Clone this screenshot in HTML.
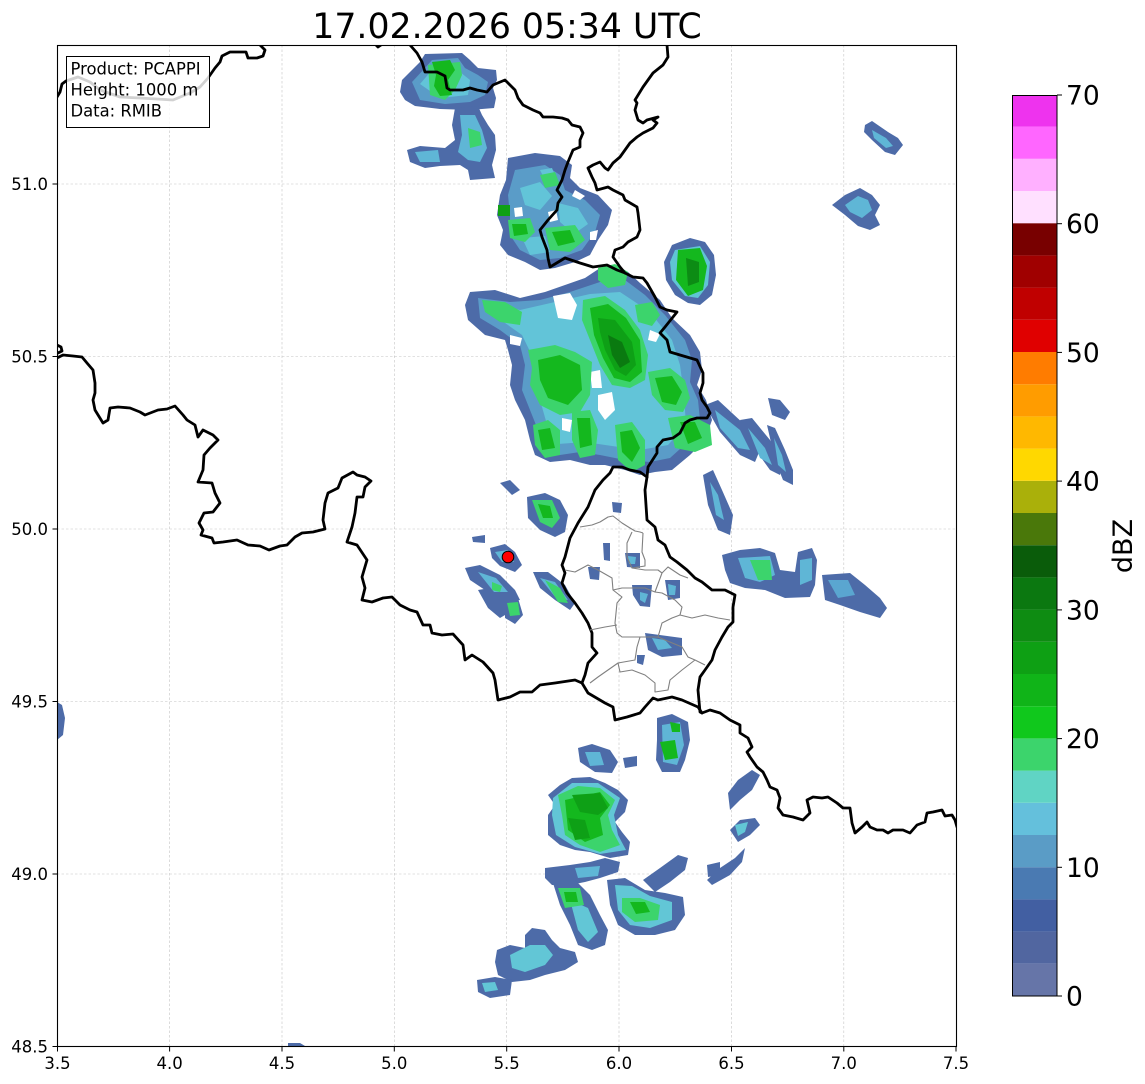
<!DOCTYPE html>
<html><head><meta charset="utf-8"><style>
html,body{margin:0;padding:0;background:#fff;}
svg{display:block;font-family:"DejaVu Sans","Liberation Sans",sans-serif;}
</style></head><body>
<svg width="1145" height="1084" viewBox="0 0 1145 1084" xmlns="http://www.w3.org/2000/svg">
<rect width="1145" height="1084" fill="#fff"/>
<defs><clipPath id="ax"><rect x="57.5" y="45.5" width="899" height="1001"/></clipPath></defs>
<!-- grid -->
<g stroke="#c4c4c4" stroke-width="0.6" stroke-dasharray="2.5,2">
<line x1="169.6" y1="45" x2="169.6" y2="1046"/><line x1="282" y1="45" x2="282" y2="1046"/><line x1="394.3" y1="45" x2="394.3" y2="1046"/><line x1="506.7" y1="45" x2="506.7" y2="1046"/><line x1="619" y1="45" x2="619" y2="1046"/><line x1="731.5" y1="45" x2="731.5" y2="1046"/><line x1="843.8" y1="45" x2="843.8" y2="1046"/>
<line x1="57" y1="184" x2="956" y2="184"/><line x1="57" y1="356.5" x2="956" y2="356.5"/><line x1="57" y1="529" x2="956" y2="529"/><line x1="57" y1="701.5" x2="956" y2="701.5"/><line x1="57" y1="874" x2="956" y2="874"/>
</g>
<g clip-path="url(#ax)">
<g stroke="none">
<!-- blob 1 -->
<path fill="#4d6ba8" d="M402,80 L410,72 L420,62 L425,54 L462,53 L470,60 L478,68 L496,70 L497,80 L493,88 L496,98 L494,108 L470,110 L440,109 L415,106 L405,100 L400,92 Z"/>
<path fill="#5a9cc8" d="M412,82 L425,68 L432,60 L458,58 L465,68 L478,75 L488,82 L485,95 L470,102 L445,104 L420,100 Z"/>
<path fill="#62c4d8" d="M420,84 L432,70 L455,68 L470,80 L468,95 L440,98 Z"/>
<path fill="#3cd46c" d="M428,65 L460,62 L462,75 L455,90 L445,100 L430,95 Z"/>
<path fill="#14b81e" d="M432,62 L450,60 L455,70 L448,80 L452,95 L440,96 L434,86 L436,75 Z"/>
<!-- blob 2 -->
<path fill="#4d6ba8" d="M455,108 L478,106 L482,115 L488,125 L495,135 L496,150 L492,165 L495,178 L470,180 L468,170 L460,165 L440,166 L425,168 L410,162 L407,150 L420,146 L445,148 L455,140 L452,125 Z"/>
<path fill="#5fb6d6" d="M460,115 L475,115 L482,130 L487,148 L480,162 L468,160 L458,152 L462,135 Z M415,152 L438,150 L440,162 L420,162 Z"/>
<path fill="#3cd46c" d="M468,128 L480,132 L482,145 L470,148 Z"/>
<!-- blob 3 -->
<path fill="#4d6ba8" d="M508,158 L535,153 L560,156 L572,165 L570,178 L580,188 L598,195 L612,210 L608,225 L598,240 L590,255 L575,262 L555,268 L540,270 L525,262 L508,255 L500,245 L503,230 L497,215 L500,195 L506,180 Z"/>
<path fill="#5a9cc8" d="M515,170 L545,165 L560,175 L565,190 L585,200 L600,215 L595,232 L582,250 L560,258 L540,260 L520,250 L510,235 L510,215 L508,195 Z"/>
<path fill="#62c4d8" d="M520,188 L540,182 L552,196 L540,210 L525,205 Z M558,203 L578,208 L588,224 L574,234 L560,222 Z M522,238 L545,236 L550,252 L530,255 Z M540,170 L552,168 L556,178 L545,180 Z"/>
<path fill="#fff" d="M514,208 L522,207 L523,216 L515,217 Z M548,212 L556,210 L558,220 L550,222 Z M575,190 L585,196 L580,200 L572,196 Z M590,232 L598,230 L596,240 L590,240 Z"/>
<path fill="#10a016" d="M498,205 L510,205 L510,216 L498,216 Z"/>
<path fill="#3cd46c" d="M508,220 L530,218 L535,232 L525,242 L510,238 Z M545,228 L575,225 L585,240 L570,252 L550,250 Z M540,175 L555,172 L560,185 L545,188 Z"/>
<path fill="#14b81e" d="M512,224 L526,224 L528,234 L514,236 Z M552,232 L570,230 L575,242 L558,246 Z"/>
<!-- blob 4 -->
<path fill="#4d6ba8" d="M672,245 L690,238 L705,242 L714,255 L716,275 L712,295 L700,305 L688,303 L675,295 L666,280 L664,262 Z"/>
<path fill="#60c4d4" d="M675,250 L700,246 L710,262 L708,285 L698,298 L685,296 L672,280 L670,262 Z"/>
<path fill="#14b81e" d="M678,250 L700,248 L707,266 L703,290 L688,296 L676,280 Z"/>
<path fill="#0c8c14" d="M686,258 L699,262 L699,282 L688,286 Z"/>
<!-- blob 5 main cluster -->
<path fill="#4d6ba8" d="M470,292 L495,290 L520,298 L545,292 L565,285 L585,278 L600,268 L615,265 L628,272 L640,283 L660,300 L672,318 L690,335 L700,352 L702,370 L697,385 L706,400 L712,420 L705,440 L690,455 L672,470 L655,472 L640,475 L625,470 L605,465 L590,465 L570,460 L550,462 L535,455 L530,440 L525,420 L515,400 L510,385 L512,365 L508,350 L505,340 L485,335 L468,320 L465,305 Z"/>
<path fill="#5a9cc8" d="M478,298 L510,302 L540,300 L570,292 L600,282 L625,280 L645,295 L665,315 L685,340 L692,360 L690,382 L698,400 L700,420 L690,440 L670,458 L650,462 L625,460 L600,455 L580,452 L560,455 L542,448 L538,430 L530,410 L522,390 L525,365 L520,345 L500,330 L480,318 Z"/>
<path fill="#62c4d8" d="M492,302 L520,310 L555,302 L590,294 L620,292 L650,312 L672,340 L680,365 L684,395 L686,425 L668,445 L640,450 L612,446 L585,442 L558,444 L548,428 L540,400 L538,368 L522,335 L498,318 Z"/>
<path fill="#fff" d="M553,296 L570,293 L577,305 L572,320 L558,318 Z M590,372 L600,370 L602,388 L592,388 Z M598,395 L612,392 L615,410 L605,420 L598,410 Z M510,335 L522,338 L520,346 L510,344 Z M562,418 L572,420 L570,432 L562,430 Z M650,330 L660,334 L656,342 L648,340 Z"/>
<path fill="#3cd46c" d="M482,300 L505,302 L522,312 L520,325 L500,322 L485,312 Z"/>
<path fill="#3cd46c" d="M583,300 L605,296 L625,310 L640,330 L648,355 L645,380 L630,388 L612,385 L600,365 L590,340 L582,320 Z"/>
<path fill="#14b81e" d="M590,308 L608,304 L626,318 L640,340 L642,372 L630,382 L614,378 L603,358 L594,335 Z"/>
<path fill="#0ea016" d="M598,318 L615,320 L632,342 L636,365 L626,376 L615,370 L605,350 L600,332 Z"/>
<path fill="#0a7a10" d="M608,335 L622,342 L630,362 L620,368 L612,355 Z"/>
<path fill="#3cd46c" d="M528,350 L555,345 L575,352 L592,362 L590,395 L580,412 L560,415 L540,405 L530,385 L532,368 Z"/>
<path fill="#14b81e" d="M538,360 L560,355 L580,365 L582,390 L568,405 L548,398 L540,380 Z"/>
<path fill="#3cd46c" d="M533,425 L548,420 L560,430 L560,455 L545,458 L535,445 Z M572,412 L590,410 L598,430 L595,455 L580,458 L572,440 Z"/>
<path fill="#14b81e" d="M538,430 L550,428 L555,448 L542,450 Z M577,418 L590,418 L592,445 L580,448 Z"/>
<path fill="#3cd46c" d="M648,372 L670,368 L685,380 L690,398 L683,412 L665,410 L652,395 Z"/>
<path fill="#14b81e" d="M655,378 L672,376 L682,392 L676,405 L662,402 Z"/>
<path fill="#3cd46c" d="M598,268 L615,264 L628,272 L625,285 L608,288 L598,280 Z M635,305 L652,302 L660,315 L652,326 L638,322 Z"/>
<path fill="#3cd46c" d="M615,425 L632,422 L645,440 L645,465 L632,472 L618,460 Z M668,418 L690,415 L710,425 L712,445 L695,452 L675,448 Z"/>
<path fill="#14b81e" d="M620,432 L632,430 L640,448 L632,462 L622,452 Z M680,422 L695,422 L702,438 L688,444 Z"/>
<!-- east streaks -->
<path fill="#4d6ba8" d="M705,405 L718,400 L745,425 L760,450 L755,462 L740,455 L720,432 Z M740,420 L752,418 L770,440 L782,462 L780,475 L770,470 L752,445 Z M768,398 L780,400 L790,412 L785,420 L772,415 Z M767,425 L775,428 L785,450 L793,470 L793,485 L783,480 L775,460 Z M703,475 L713,470 L722,490 L733,515 L730,535 L718,530 L708,505 Z"/>
<path fill="#5fb6d6" d="M715,410 L740,430 L750,450 L738,448 L720,428 Z M748,428 L765,448 L772,465 L760,458 Z M710,482 L718,495 L724,520 L716,515 Z M774,438 L782,455 L786,472 L778,465 Z"/>
<!-- top right -->
<path fill="#4d6ba8" d="M865,125 L872,121 L888,132 L898,138 L903,145 L895,155 L885,152 L872,140 L864,132 Z"/>
<path fill="#5fb6d6" d="M872,130 L886,138 L893,146 L886,148 L874,138 Z"/>
<path fill="#4d6ba8" d="M832,205 L845,195 L860,188 L872,195 L880,205 L875,215 L880,225 L870,230 L858,226 L845,215 Z"/>
<path fill="#5fb6d6" d="M845,205 L858,196 L868,200 L872,210 L862,218 L850,212 Z"/>
<!-- east band -->
<path fill="#4d6ba8" d="M722,555 L740,550 L760,548 L775,553 L780,570 L795,572 L798,552 L812,548 L817,560 L815,585 L810,597 L785,598 L765,590 L745,588 L730,583 L725,570 Z"/>
<path fill="#5fb6d6" d="M738,558 L770,556 L775,575 L760,582 L745,578 Z M800,560 L812,558 L812,580 L800,585 Z"/>
<path fill="#3cd46c" d="M750,560 L770,560 L772,580 L758,580 Z"/>
<path fill="#4d6ba8" d="M822,575 L850,573 L865,585 L880,598 L887,608 L880,618 L860,612 L840,605 L825,600 Z"/>
<path fill="#5aa6d0" d="M828,580 L848,580 L855,595 L838,598 Z"/>
<!-- radar site area -->
<path fill="#4d6ba8" d="M527,497 L545,493 L560,500 L568,515 L565,532 L555,537 L540,530 L528,518 Z"/>
<path fill="#3cd46c" d="M532,500 L552,500 L560,518 L552,528 L540,522 Z"/>
<path fill="#14b81e" d="M538,504 L550,506 L553,518 L543,518 Z"/>
<path fill="#4d6ba8" d="M490,548 L505,544 L515,552 L522,565 L515,572 L500,566 L492,558 Z M465,568 L480,565 L500,575 L515,590 L520,600 L505,602 L485,590 L470,580 Z M478,590 L490,588 L505,600 L510,612 L500,618 L488,608 Z M505,600 L518,598 L523,615 L515,624 L505,618 Z M533,572 L548,572 L565,585 L575,603 L570,610 L555,600 L540,588 Z M500,483 L510,480 L520,490 L512,495 Z M472,537 L485,535 L485,543 L473,542 Z"/>
<path fill="#5fb6d6" d="M495,552 L508,550 L514,562 L502,562 Z M478,572 L496,578 L508,592 L494,592 Z M540,578 L555,582 L568,600 L556,598 Z"/>
<path fill="#3cd46c" d="M507,603 L518,602 L520,615 L510,616 Z M545,580 L560,588 L568,603 L558,602 Z M492,582 L502,586 L500,592 L492,590 Z"/>
<!-- Lux interior -->
<path fill="#4d6ba8" d="M625,553 L640,553 L640,568 L627,567 Z M632,585 L652,585 L650,607 L640,606 L633,595 Z M665,580 L680,580 L680,598 L668,600 Z M645,633 L682,638 L682,655 L662,657 L648,650 Z M637,655 L645,655 L643,665 L637,663 Z M588,567 L600,567 L599,580 L590,579 Z M612,502 L622,503 L621,513 L613,512 Z M603,543 L610,543 L610,561 L604,560 Z"/>
<path fill="#5fb6d6" d="M628,556 L636,557 L635,564 L629,564 Z M640,592 L648,594 L645,603 L640,600 Z M668,584 L676,586 L675,595 L669,595 Z M652,638 L665,640 L672,648 L658,650 Z"/>
<!-- south cluster -->
<path fill="#4d6ba8" d="M578,748 L592,744 L610,750 L618,762 L612,773 L595,772 L580,762 Z M623,758 L637,756 L637,766 L625,768 Z"/>
<path fill="#5fb6d6" d="M585,752 L600,752 L604,765 L590,766 Z"/>
<path fill="#4d6ba8" d="M657,718 L672,714 L688,722 L690,740 L685,760 L680,772 L662,772 L656,760 L657,740 Z"/>
<path fill="#5fb6d6" d="M662,725 L680,722 L684,745 L677,765 L663,762 Z"/>
<path fill="#14b81e" d="M660,742 L675,740 L678,758 L665,760 Z M670,722 L680,724 L680,732 L672,732 Z"/>
<path fill="#4d6ba8" d="M548,795 L560,785 L572,778 L590,777 L605,783 L618,790 L628,800 L625,812 L615,822 L622,832 L630,842 L628,855 L610,858 L590,852 L575,850 L560,845 L548,835 L548,815 L555,805 Z"/>
<path fill="#62c6d6" d="M553,798 L572,783 L598,783 L620,798 L614,815 L618,835 L626,850 L600,854 L575,847 L556,835 L552,815 Z"/>
<path fill="#3cd46c" d="M558,795 L578,786 L600,788 L615,800 L608,815 L612,830 L620,845 L600,852 L580,845 L565,835 L562,815 Z"/>
<path fill="#14b81e" d="M565,800 L600,792 L610,805 L600,818 L603,835 L585,842 L568,830 Z"/>
<path fill="#0ea016" d="M572,795 L600,793 L608,808 L598,815 L580,812 Z M568,818 L585,820 L590,838 L575,840 Z"/>
<path fill="#4d6ba8" d="M545,868 L570,865 L590,862 L605,858 L620,862 L618,872 L600,878 L585,882 L570,885 L552,885 L545,878 Z"/>
<path fill="#5fb6d6" d="M575,868 L600,866 L598,876 L578,878 Z"/>
<path fill="#4d6ba8" d="M552,880 L575,880 L590,895 L600,915 L608,930 L605,945 L592,950 L578,945 L570,925 L560,905 Z"/>
<path fill="#62c6d6" d="M570,900 L588,908 L598,932 L588,942 L578,930 Z"/>
<path fill="#3cd46c" d="M558,888 L580,888 L584,905 L565,908 Z"/>
<path fill="#14b81e" d="M564,892 L576,892 L578,902 L566,902 Z"/>
<path fill="#4d6ba8" d="M607,880 L625,878 L645,890 L665,893 L683,897 L685,915 L675,930 L655,935 L635,935 L618,925 L610,905 Z M643,880 L660,868 L678,855 L688,858 L685,870 L670,882 L655,892 Z M707,865 L720,862 L720,875 L708,877 Z"/>
<path fill="#62c6d6" d="M615,885 L632,886 L650,896 L672,902 L672,920 L650,928 L630,925 L618,910 Z"/>
<path fill="#3cd46c" d="M622,898 L640,898 L660,905 L658,920 L635,922 L622,912 Z"/>
<path fill="#14b81e" d="M630,902 L645,902 L650,912 L636,914 Z"/>
<path fill="#4d6ba8" d="M497,950 L510,945 L525,948 L525,935 L532,928 L545,930 L552,940 L560,948 L575,952 L578,962 L565,970 L545,975 L530,980 L512,982 L498,975 L495,962 Z"/>
<path fill="#62c6d6" d="M510,955 L530,945 L545,945 L553,955 L545,965 L525,972 L512,968 Z"/>
<path fill="#4d6ba8" d="M477,980 L495,977 L512,980 L510,995 L490,998 L478,992 Z"/>
<path fill="#62c6d6" d="M482,983 L495,982 L498,990 L485,992 Z"/>
<path fill="#4d6ba8" d="M728,793 L738,780 L752,770 L760,775 L752,790 L740,800 L730,810 Z M730,830 L740,820 L755,818 L760,825 L750,835 L738,842 Z M707,880 L720,868 L735,858 L745,848 L742,862 L730,875 L712,885 Z"/>
<path fill="#62c6d6" d="M735,825 L748,822 L745,832 L738,836 Z"/>
<path fill="#4d6ba8" d="M57,702 L62,705 L65,718 L63,735 L57,740 Z M288,1043 L300,1043 L305,1046 L288,1046 Z"/>
</g>
<!-- borders -->
<g fill="none" stroke="#000" stroke-width="2.8" stroke-linejoin="round" stroke-linecap="round">
<path d="M57,97 L60,92 L62,84 L66,81 L72,79 L78,77 L90,82 L100,90 L120,97 L140,98 L173,100 L190,93 L200,87 L208,78 L215,68 L220,62 L222,56 L230,52 L246,52 L248,58 L257,58 L263,56 L265,50 L260,45"/>
<path d="M376,45 L378,47 L381,45"/>
<path d="M410,45 L417,53 L422,62 L425,72 L437,72 L445,76 L447,88 L450,90 L463,90 L470,88 L477,90 L487,92 L493,85 L505,80 L515,90 L518,98 L523,105 L533,110 L540,113 L543,117 L553,117 L562,118 L568,120 L572,125 L580,127 L583,133 L580,140 L580,147 L573,150 L568,162 L565,170 L562,180 L557,190 L562,197 L558,203 L557,210 L548,220 L540,230 L542,237 L547,250 L548,258 L550,267 L565,258 L580,263 L593,267 L607,265 L617,270 L625,273 L633,277 L643,278 L647,283 L655,297 L660,307 L667,310 L677,312 L673,317 L665,327 L660,333 L667,340 L670,352 L680,355 L697,360 L703,373 L703,383 L700,393 L702,400 L707,407 L710,413 L707,418 L697,418 L690,420 L685,423 L680,433 L673,438 L663,440 L657,447 L657,453 L648,467 L647,477"/>
<path d="M625,273 L620,267 L613,257 L615,250 L623,247 L628,242 L637,237 L640,230 L638,213 L637,207 L625,200 L623,195 L613,190 L608,187 L597,190 L595,183 L592,177 L588,168 L593,165 L600,162 L605,168 L608,170 L613,163 L620,157 L630,143 L637,137 L643,133 L653,128 L657,123 L653,120 L658,117 L647,120 L643,123 L638,120 L635,110 L637,103 L635,100 L643,87 L653,73 L663,65 L668,57 L667,45"/>
<path d="M57,345 L61,347 L62,351 L58,353"/>
<path d="M57,358 L63,355 L73,356 L82,357 L87,363 L93,370 L95,383 L95,393 L93,400 L95,410 L103,423 L108,420 L110,408 L118,407 L130,408 L140,412 L145,415 L158,410 L167,409 L175,406 L183,415 L187,420 L195,425 L198,437 L203,430 L213,435 L218,440 L210,448 L204,455 L203,470 L198,482 L212,483 L215,493 L220,503 L213,512 L204,513 L199,523 L203,530 L201,535 L212,538 L214,543 L223,542 L237,540 L248,545 L260,546 L269,550 L280,546 L287,545 L295,537 L302,533 L313,532 L325,529 L323,520 L325,503 L328,493 L338,488 L342,478 L353,472 L357,475 L365,477 L371,481 L365,487 L363,497 L357,497 L355,513 L352,527 L347,542 L357,545 L367,560 L362,577 L365,588 L362,600 L372,602 L383,598 L392,597 L400,605 L410,610 L417,612 L423,625 L430,625 L432,633 L442,635 L453,634 L463,645 L465,660 L472,655 L483,662 L493,673 L495,680 L498,700 L510,697 L520,692 L532,692 L540,685 L555,683 L575,680 L582,683"/>
<path d="M582,683 L588,693 L605,703 L613,707 L615,720 L627,717 L640,713 L645,707 L653,698 L658,700 L672,697 L682,700 L698,707 L702,713 L710,710 L720,713 L730,720 L740,725 L740,733 L748,738 L752,747 L747,752 L750,757 L757,767 L763,772 L767,780 L770,787 L777,790 L780,798 L778,808 L783,815 L793,817 L803,820 L810,813 L807,800 L813,797 L822,798 L828,797 L837,803 L843,808 L850,808 L852,823 L855,833 L862,827 L867,822 L870,827 L877,830 L883,830 L888,833 L893,830 L903,830 L910,833 L917,825 L925,822 L927,813 L933,812 L942,810 L945,816 L952,815 L955,820 L957,827"/>
<path d="M582,683 L585,675 L588,663 L597,653 L592,647 L592,633 L588,623 L582,613 L575,603 L567,593 L562,583 L565,573 L562,565 L565,557 L570,538 L578,523 L588,507 L595,490 L603,480 L610,473 L613,467 L622,467 L630,470 L640,472 L647,477"/>
<path d="M647,477 L645,490 L647,520 L655,527 L658,540 L665,545 L670,557 L677,562 L687,570 L695,578 L702,582 L712,590 L725,590 L735,595 L733,607 L733,622 L728,627 L722,637 L715,650 L712,660 L705,670 L700,677 L698,690 L700,712 L702,713"/>
</g>
<g fill="none" stroke="#808080" stroke-width="1.1" stroke-linejoin="round">
<path d="M580,527 L592,525 L600,522 L608,517 L613,516 L622,523 L630,528 L635,531 L640,532 L643,533"/>
<path d="M632,532 L627,543 L627,557 L632,568 L645,566 L645,560 L642,552 L643,533"/>
<path d="M565,570 L575,572 L588,565 L598,570 L612,578 L613,590 L622,588 L632,588 L645,588 L655,592 L662,573 L668,567 L680,575 L688,578"/>
<path d="M613,590 L622,597 L617,603 L615,623 L617,633 L622,637 L640,637 L658,637 L662,623 L672,618 L680,615 L682,607 L675,600 L662,593 L655,592"/>
<path d="M680,615 L692,618 L705,615 L718,618 L730,620"/>
<path d="M658,637 L665,640 L682,647 L688,657 L695,660 L705,665"/>
<path d="M640,637 L637,647 L635,660 L618,663 L620,672 L632,670 L645,675 L655,683 L655,692 L668,690 L670,680 L682,670 L695,660"/>
<path d="M618,663 L598,677 L590,683"/>
<path d="M590,630 L605,627 L617,625"/>
<path d="M632,568 L645,570 L658,570 L662,573"/>
</g>
<circle cx="508" cy="557" r="5.8" fill="#f00" stroke="#000" stroke-width="1"/>
</g>
<!-- legend box -->
<rect x="66.5" y="56.5" width="143" height="71" fill="#fff" fill-opacity="0.82" stroke="#000" stroke-width="1"/>
<g font-size="16.4" fill="#000">
<text x="70.5" y="74.5">Product: PCAPPI</text>
<text x="70.5" y="95.5">Height: 1000 m</text>
<text x="70.5" y="116.5">Data: RMIB</text>
</g>
<rect x="57.5" y="45.5" width="899" height="1001" fill="none" stroke="#000" stroke-width="1.1"/>
<g stroke="#000" stroke-width="1">
<line x1="52.5" y1="184" x2="57.5" y2="184"/><line x1="52.5" y1="356.5" x2="57.5" y2="356.5"/><line x1="52.5" y1="529" x2="57.5" y2="529"/><line x1="52.5" y1="701.5" x2="57.5" y2="701.5"/><line x1="52.5" y1="874" x2="57.5" y2="874"/><line x1="52.5" y1="1046.5" x2="57.5" y2="1046.5"/>
<line x1="57.5" y1="1046.5" x2="57.5" y2="1051.5"/><line x1="169.6" y1="1046.5" x2="169.6" y2="1051.5"/><line x1="282" y1="1046.5" x2="282" y2="1051.5"/><line x1="394.3" y1="1046.5" x2="394.3" y2="1051.5"/><line x1="506.7" y1="1046.5" x2="506.7" y2="1051.5"/><line x1="619" y1="1046.5" x2="619" y2="1051.5"/><line x1="731.5" y1="1046.5" x2="731.5" y2="1051.5"/><line x1="843.8" y1="1046.5" x2="843.8" y2="1051.5"/><line x1="956" y1="1046.5" x2="956" y2="1051.5"/>
</g>
<g font-size="16.5" fill="#000" text-anchor="end">
<text x="48" y="190">51.0</text><text x="48" y="362.5">50.5</text><text x="48" y="535">50.0</text><text x="48" y="707.5">49.5</text><text x="48" y="880">49.0</text><text x="48" y="1052.5">48.5</text>
</g>
<g font-size="16.5" fill="#000" text-anchor="middle">
<text x="57.5" y="1069">3.5</text><text x="169.6" y="1069">4.0</text><text x="282" y="1069">4.5</text><text x="394.3" y="1069">5.0</text><text x="506.7" y="1069">5.5</text><text x="619" y="1069">6.0</text><text x="731.5" y="1069">6.5</text><text x="843.8" y="1069">7.0</text><text x="956" y="1069">7.5</text>
</g>
<text x="507" y="38" font-size="34.7" text-anchor="middle" fill="#000">17.02.2026 05:34 UTC</text>
<g>
<rect x="1012" y="963.8" width="45" height="32.2" fill="#6675a8"/>
<rect x="1012" y="931.6" width="45" height="32.2" fill="#5166a0"/>
<rect x="1012" y="899.4" width="45" height="32.2" fill="#425fa2"/>
<rect x="1012" y="867.2" width="45" height="32.2" fill="#4a7ab2"/>
<rect x="1012" y="835.0" width="45" height="32.2" fill="#5a9cc6"/>
<rect x="1012" y="802.8" width="45" height="32.2" fill="#64c0dc"/>
<rect x="1012" y="770.6" width="45" height="32.2" fill="#60d4c4"/>
<rect x="1012" y="738.4" width="45" height="32.2" fill="#3cd46c"/>
<rect x="1012" y="706.2" width="45" height="32.2" fill="#10c81c"/>
<rect x="1012" y="674.0" width="45" height="32.2" fill="#10b418"/>
<rect x="1012" y="641.8" width="45" height="32.2" fill="#0ea014"/>
<rect x="1012" y="609.6" width="45" height="32.2" fill="#0e8c12"/>
<rect x="1012" y="577.4" width="45" height="32.2" fill="#0b7810"/>
<rect x="1012" y="545.2" width="45" height="32.2" fill="#0a5c0a"/>
<rect x="1012" y="513.0" width="45" height="32.2" fill="#4a780a"/>
<rect x="1012" y="480.8" width="45" height="32.2" fill="#aab00a"/>
<rect x="1012" y="448.6" width="45" height="32.2" fill="#ffd800"/>
<rect x="1012" y="416.4" width="45" height="32.2" fill="#ffb800"/>
<rect x="1012" y="384.2" width="45" height="32.2" fill="#ff9c00"/>
<rect x="1012" y="352.0" width="45" height="32.2" fill="#ff7c00"/>
<rect x="1012" y="319.8" width="45" height="32.2" fill="#e00000"/>
<rect x="1012" y="287.6" width="45" height="32.2" fill="#c00000"/>
<rect x="1012" y="255.4" width="45" height="32.2" fill="#a00000"/>
<rect x="1012" y="223.2" width="45" height="32.2" fill="#780000"/>
<rect x="1012" y="191.0" width="45" height="32.2" fill="#ffe0ff"/>
<rect x="1012" y="158.8" width="45" height="32.2" fill="#ffb0ff"/>
<rect x="1012" y="126.6" width="45" height="32.2" fill="#ff66ff"/>
<rect x="1012" y="95" width="45" height="31.6" fill="#ee33ee"/>
<rect x="1012.5" y="95.5" width="44.5" height="900.5" fill="none" stroke="#000" stroke-width="1"/>
</g>
<g stroke="#000" stroke-width="1">
<line x1="1057" y1="996" x2="1062" y2="996"/><line x1="1057" y1="867.3" x2="1062" y2="867.3"/><line x1="1057" y1="738.6" x2="1062" y2="738.6"/><line x1="1057" y1="609.9" x2="1062" y2="609.9"/><line x1="1057" y1="481.1" x2="1062" y2="481.1"/><line x1="1057" y1="352.4" x2="1062" y2="352.4"/><line x1="1057" y1="223.7" x2="1062" y2="223.7"/><line x1="1057" y1="95" x2="1062" y2="95"/>
</g>
<g font-size="26.5" fill="#000">
<text x="1066" y="1005.5">0</text><text x="1066" y="876.8">10</text><text x="1066" y="748.1">20</text><text x="1066" y="619.4">30</text><text x="1066" y="490.6">40</text><text x="1066" y="361.9">50</text><text x="1066" y="233.2">60</text><text x="1066" y="104.5">70</text>
</g>
<text transform="translate(1132,546) rotate(-90)" font-size="27" text-anchor="middle" fill="#000">dBZ</text>
</svg>
</body></html>
